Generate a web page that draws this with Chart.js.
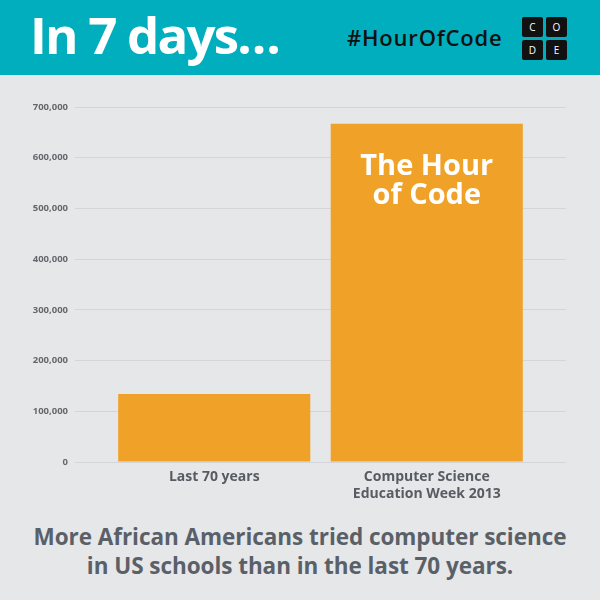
<!DOCTYPE html>
<html>
<head>
  <title>In 7 days - Hour of Code</title>
  <script src="https://cdn.jsdelivr.net/npm/chart.js"></script>
  <style>
    html, body {
      margin: 0;
      padding: 0;
    }
    body {
      width: 600px;
      height: 600px;
      position: relative;
      overflow: hidden;
      background-color: #e6e7e9;
      font-family: 'Open Sans', sans-serif;
    }
    .header {
      position: absolute;
      left: 0;
      top: 0;
      width: 600px;
      height: 75px;
      background-color: #00aebd;
    }
    .title {
      position: absolute;
      left: 30px;
      top: 8px;
      font-size: 51px;
      line-height: 52px;
      font-weight: 700;
      color: #ffffff;
      letter-spacing: -1.8px;
    }
    .hashtag {
      position: absolute;
      left: 347px;
      top: 25px;
      font-size: 22px;
      line-height: 24px;
      font-weight: 600;
      color: #111111;
      letter-spacing: 0.8px;
    }
    .logo {
      position: absolute;
      left: 522px;
      top: 17px;
      width: 45px;
      display: grid;
      grid-template-columns: 21px 21px;
      grid-gap: 3px 3px;
    }
    .logo div {
      height: 20px;
      background-color: #111111;
      color: #ffffff;
      border-radius: 2px;
      font-size: 10px;
      line-height: 20px;
      text-align: center;
    }
    #chartBox {
      position: absolute;
      left: 0;
      top: 80px;
      width: 600px;
      height: 432px;
    }
    .caption {
      position: absolute;
      left: 0;
      top: 522px;
      width: 600px;
      text-align: center;
      font-size: 22.5px;
      line-height: 29px;
      font-weight: 700;
      color: #5a6068;
      letter-spacing: -0.05px;
    }
  </style>
</head>
<body>
  <div class="header">
    <div class="title">In 7 days…</div>
    <div class="hashtag">#HourOfCode</div>
    <div class="logo"><div>C</div><div>O</div><div>D</div><div>E</div></div>
  </div>

  <div id="chartBox"><canvas id="codeChart"></canvas></div>

  <div class="caption">More African Americans tried computer science<br>in US schools than in the last 70 years.</div>

  <script>
    // values
    const categories = ['Last 70 years', ['Computer Science', 'Education Week 2013']];
    const students = [134000, 667000];
    const barLabel = ['The Hour', 'of Code'];
    const yMax = 700000;
    const yStep = 100000;

    const barColor = '#f0a127';
    const gridColor = '#d3d5d8';

    // white text inside the second bar
    const barTextPlugin = {
      id: 'barText',
      afterDatasetsDraw(chart) {
        const bar = chart.getDatasetMeta(0).data[1];
        const ctx = chart.ctx;
        ctx.save();
        ctx.fillStyle = '#ffffff';
        ctx.font = "700 29px 'Open Sans'";
        ctx.textAlign = 'center';
        ctx.textBaseline = 'middle';
        barLabel.forEach(function (line, i) {
          ctx.fillText(line, bar.x, bar.y + 43 + i * 29);
        });
        ctx.restore();
      }
    };

    const ctx = document.getElementById('codeChart').getContext('2d');
    const codeChart = new Chart(ctx, {
      type: 'bar',
      data: {
        labels: categories,
        datasets: [{
          data: students,
          backgroundColor: barColor,
          borderWidth: 0,
          barPercentage: 0.904,
          categoryPercentage: 1.0
        }]
      },
      options: {
        responsive: true,
        maintainAspectRatio: false,
        animation: false,
        layout: { padding: { left: 0, right: 34, top: 27, bottom: 0 } },
        plugins: {
          legend: { display: false },
          tooltip: { enabled: false }
        },
        scales: {
          x: {
            grid: { display: false, drawTicks: false },
            border: { display: false },
            ticks: {
              color: '#575c63',
              padding: 6,
              font: { family: 'Open Sans', size: 14, weight: '700', lineHeight: 1.25 }
            },
            afterFit(scale) { scale.height = 50; }
          },
          y: {
            min: 0,
            max: yMax,
            border: { display: false },
            grid: { color: gridColor, lineWidth: 1, drawTicks: true, tickLength: 33 },
            ticks: {
              stepSize: yStep,
              padding: 7,
              color: '#64686d',
              font: { family: 'Open Sans', size: 9.5, weight: '700' },
              callback: function (v) { return v.toLocaleString('en-US'); }
            },
            afterFit(scale) { scale.width = 108; }
          },
          yRight: {
            position: 'right',
            min: 0,
            max: yMax,
            border: { display: false },
            grid: { color: gridColor, lineWidth: 1, drawOnChartArea: false, drawTicks: true, tickLength: 33 },
            ticks: { stepSize: yStep, display: false },
            afterFit(scale) { scale.width = 33; }
          }
        }
      },
      plugins: [barTextPlugin]
    });
  </script>
</body>
</html>
